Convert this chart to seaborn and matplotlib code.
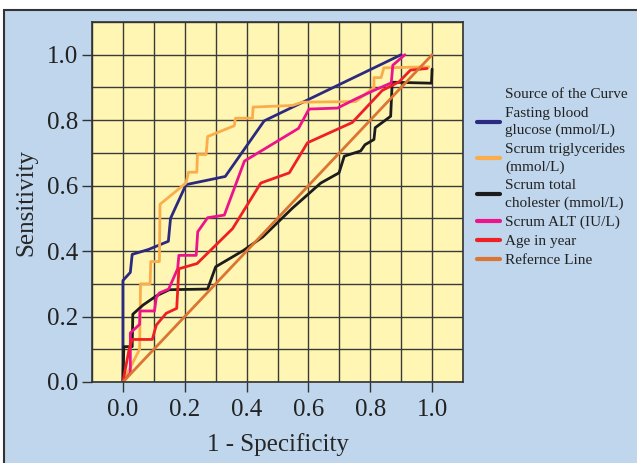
import pandas as pd
import seaborn as sns
import matplotlib.pyplot as plt
from matplotlib.lines import Line2D
from matplotlib.patches import Rectangle
from matplotlib.ticker import MultipleLocator

# ROC curves: (1 - specificity, sensitivity)
glucose_x = [0, 0, 0.024, 0.03, 0.083, 0.147, 0.154, 0.204, 0.331, 0.457, 0.9]
glucose_y = [0, 0.31, 0.335, 0.39, 0.405, 0.43, 0.5, 0.603, 0.628, 0.798, 1.0]

trig_x = [0, 0.054, 0.057, 0.088, 0.09, 0.118, 0.12, 0.204, 0.212, 0.239, 0.241,
          0.269, 0.274, 0.36, 0.364, 0.419, 0.421, 0.548, 0.58, 0.753, 0.812,
          0.812, 0.835, 0.844, 0.99]
trig_y = [0, 0.1, 0.3, 0.3, 0.368, 0.368, 0.543, 0.608, 0.641, 0.641, 0.695,
          0.695, 0.75, 0.783, 0.806, 0.806, 0.84, 0.845, 0.855, 0.857, 0.9,
          0.93, 0.93, 0.96, 0.963]

chol_x = [0, 0.003, 0.03, 0.032, 0.065, 0.108, 0.15, 0.274, 0.3, 0.39, 0.452,
          0.548, 0.64, 0.699, 0.716, 0.769, 0.783, 0.812, 0.816, 0.866, 0.871,
          0.998, 1.0]
chol_y = [0, 0.108, 0.108, 0.207, 0.235, 0.263, 0.282, 0.284, 0.352, 0.402, 0.443,
          0.531, 0.608, 0.639, 0.69, 0.706, 0.725, 0.741, 0.777, 0.812, 0.916,
          0.913, 0.956]

alt_x = [0, 0.024, 0.024, 0.054, 0.055, 0.102, 0.108, 0.118, 0.148, 0.177, 0.181,
         0.237, 0.242, 0.274, 0.328, 0.393, 0.568, 0.602, 0.694, 0.753, 0.812,
         0.868, 0.873, 0.912]
alt_y = [0, 0.027, 0.15, 0.176, 0.217, 0.217, 0.258, 0.272, 0.284, 0.346, 0.387,
         0.387, 0.459, 0.502, 0.51, 0.675, 0.775, 0.834, 0.837, 0.865, 0.891,
         0.914, 0.968, 1.0]

age_x = [0, 0.02, 0.03, 0.095, 0.108, 0.14, 0.174, 0.181, 0.24, 0.355, 0.446,
         0.538, 0.597, 0.742, 0.839, 0.893, 0.93, 0.984]
age_y = [0, 0.1, 0.13, 0.13, 0.174, 0.21, 0.225, 0.346, 0.362, 0.469, 0.608,
         0.639, 0.731, 0.793, 0.891, 0.917, 0.953, 0.958]

ref_x = [0, 1]
ref_y = [0, 1]

names = ['Fasting blood\nglucose (mmol/L)', 'Scrum triglycerides\n(mmol/L)',
         'Scrum total\ncholester (mmol/L)', 'Scrum ALT (IU/L)', 'Age in year',
         'Refernce Line']
colors = ['#2b2a80', '#fbad4c', '#1c1c1c', '#ec138c', '#ee1f25', '#dc7432']

frames = []
for name, xs, ys in zip(names,
                        [glucose_x, trig_x, chol_x, alt_x, age_x, ref_x],
                        [glucose_y, trig_y, chol_y, alt_y, age_y, ref_y]):
    frames.append(pd.DataFrame({'fpr': xs, 'tpr': ys, 'curve': name}))
df = pd.concat(frames, ignore_index=True)

sns.set_style('white')
plt.rcParams['font.family'] = ['Liberation Serif', 'DejaVu Serif']
plt.rcParams['text.color'] = '#222222'

fig = plt.figure(figsize=(6.37, 4.63), dpi=100)
fig.patch.set_facecolor('white')
fig.add_artist(Rectangle((4 / 637, -0.05), 1.1, 1.05 - 10 / 463,
                         transform=fig.transFigure, facecolor='#bfd6ec',
                         edgecolor='#333333', lw=1.5, zorder=0))

ax = fig.add_axes([92 / 637, 1 - 382 / 463, 371 / 637, 360 / 463])
ax.set_facecolor('#fff6b3')

sns.lineplot(data=df, x='fpr', y='tpr', hue='curve', hue_order=names,
             palette=dict(zip(names, colors)), sort=False, estimator=None,
             lw=2, ax=ax, legend=False)

ax.set_xlim(-0.1, 1.1)
ax.set_ylim(0, 1.1)
ax.set_xticks([0, 0.2, 0.4, 0.6, 0.8, 1.0])
ax.set_yticks([0, 0.2, 0.4, 0.6, 0.8, 1.0])
ax.set_xticklabels(['0.0', '0.2', '0.4', '0.6', '0.8', '1.0'])
ax.set_yticklabels(['0.0', '0.2', '0.4', '0.6', '0.8', '1.0'])
ax.xaxis.set_minor_locator(MultipleLocator(0.1))
ax.yaxis.set_minor_locator(MultipleLocator(0.1))
ax.grid(which='both', color='#3a3a3a', lw=1.0)
ax.set_axisbelow(True)
ax.tick_params(which='major', direction='out', length=7, width=1,
               color='#333333', labelsize=18, labelcolor='#222222')
ax.tick_params(axis='x', pad=5)
ax.tick_params(axis='y', pad=3)
ax.tick_params(which='minor', length=0)
ax.tick_params(axis='x', bottom=True)
ax.tick_params(axis='y', left=True)
for sp in ax.spines.values():
    sp.set_color('#333333')
    sp.set_linewidth(1.2)

ax.set_xlabel('1 - Specificity', fontsize=18, labelpad=9)
ax.set_ylabel('Sensitivity', fontsize=18, labelpad=7)

handles = [Line2D([], [], color='none', label='Source of the Curve')]
for n, c in zip(names, colors):
    handles.append(Line2D([], [], color=c, lw=3, label=n))
leg = fig.legend(handles=handles, loc='upper left',
                 bbox_to_anchor=(469 / 637, 1 - 80 / 463), frameon=False,
                 fontsize=11, borderpad=0, handlelength=1.5, handletextpad=0.35,
                 labelspacing=0.36)
for t in leg.get_texts():
    t.set_linespacing(1.4)

fig.savefig('out.png', dpi=100)
